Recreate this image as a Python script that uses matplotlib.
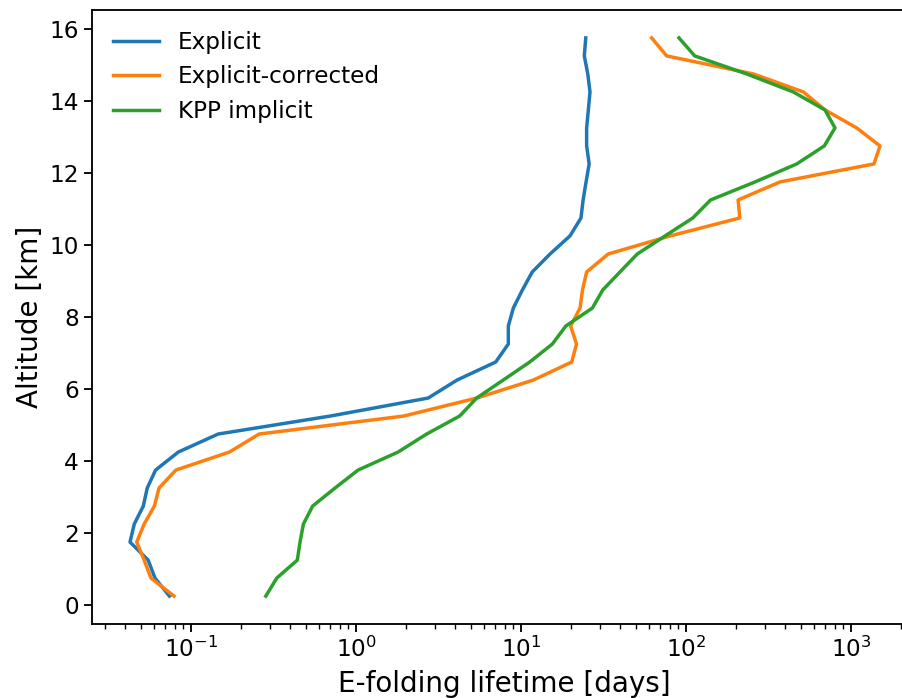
import matplotlib
matplotlib.use("Agg")
import matplotlib.pyplot as plt
import numpy as np

# altitude levels [km]
altitude = [0.25, 0.75, 1.25, 1.75, 2.25, 2.75, 3.25, 3.75, 4.25, 4.75,
            5.25, 5.75, 6.25, 6.75, 7.25, 7.75, 8.25, 8.75, 9.25, 9.75,
            10.25, 10.75, 11.25, 11.75, 12.25, 12.75, 13.25, 13.75, 14.25, 14.75,
            15.25, 15.75]

# e-folding lifetimes [days]
explicit = [0.074, 0.0605, 0.055, 0.0427, 0.0453, 0.0514, 0.0543, 0.061, 0.0838, 0.146,
            0.70, 2.74, 4.1, 7.03, 8.38, 8.38, 8.99, 10.2, 11.7, 15.0,
            19.8, 23.1, 23.8, 24.8, 25.9, 25.0, 25.0, 25.6, 26.2, 25.4,
            24.2, 24.7]
explicit_corr = [0.0789, 0.0572, 0.052, 0.0469, 0.052, 0.060, 0.064, 0.081, 0.171, 0.259,
                 1.95, 5.4, 11.9, 20.3, 21.7, 20.0, 22.8, 23.6, 25.0, 33.8,
                 80.0, 212, 207, 371, 1378, 1500, 1083, 696, 514, 256,
                 76.4, 61.9]
kpp_implicit = [0.284, 0.331, 0.441, 0.458, 0.480, 0.546, 0.746, 1.03, 1.80, 2.68,
                4.25, 5.39, 7.81, 11.3, 15.5, 18.7, 27.1, 31.3, 39.8, 50.7,
                74.6, 110, 141, 262, 469, 689, 800, 696, 447, 233,
                113, 90.7]

# everything scaled ~1.67 from matplotlib defaults
plt.rcParams['xtick.major.size'] = 5.8
plt.rcParams['xtick.major.width'] = 1.33
plt.rcParams['xtick.minor.size'] = 3.3
plt.rcParams['xtick.minor.width'] = 1.0
plt.rcParams['ytick.major.size'] = 5.8
plt.rcParams['ytick.major.width'] = 1.33
plt.rcParams['axes.linewidth'] = 1.33

fig = plt.figure(figsize=(9.03, 6.98), dpi=100)
# right edge of the axes runs off the figure (cropped, as in the original)
ax = fig.add_axes([92 / 903, 74 / 698, 838 / 903, 614 / 698])

ax.plot(explicit, altitude, lw=2.5, label='Explicit')
ax.plot(explicit_corr, altitude, lw=2.5, label='Explicit-corrected')
ax.plot(kpp_implicit, altitude, lw=2.5, label='KPP implicit')

ax.set_xscale('log')
ax.set_xlim(10 ** -1.6, 10 ** 3.479)
ax.set_xlabel('E-folding lifetime [days]', fontsize=20)
ax.xaxis.set_label_coords(0.4916, -0.075)
ax.set_ylabel('Altitude [km]', fontsize=20)
ax.tick_params(labelsize=16.7)
ax.legend(loc='upper left', frameon=False, fontsize=16.7)

fig.savefig('out.png', dpi=100)
